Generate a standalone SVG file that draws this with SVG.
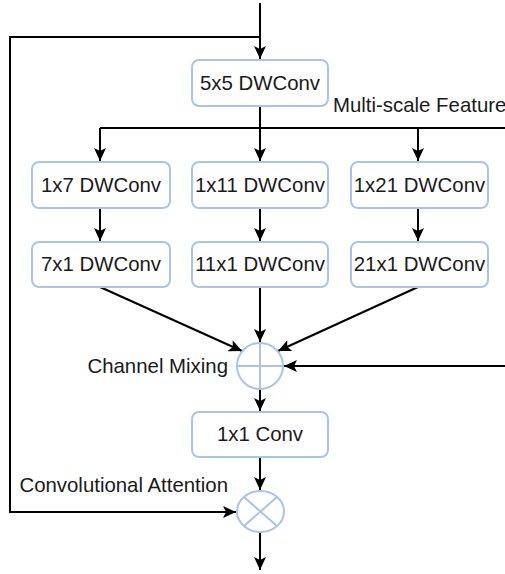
<svg xmlns="http://www.w3.org/2000/svg" width="505" height="574" viewBox="0 0 505 574">
<style>
.box{fill:#ffffff;stroke:#a9c4eb;stroke-width:2}
.op{fill:#ffffff;stroke:#a9c4eb;stroke-width:2}
.t{font-family:"Liberation Sans",Arial,sans-serif;font-size:20.4px;fill:#1a1a1a}
.c{text-anchor:middle}
.ln{fill:none;stroke:#000000;stroke-width:2}
</style>
<defs>
<marker id="ah" markerWidth="14" markerHeight="14" viewBox="0 0 14 14" refX="13" refY="7" orient="auto" markerUnits="userSpaceOnUse">
<path d="M0,1 L13,7 L0,13 L3,7 Z" fill="#000"/>
</marker>
</defs>
<g id="connectors">
<path class="ln" d="M260,3 V59" marker-end="url(#ah)"/>
<path class="ln" d="M260,37 H10 V512 H236" marker-end="url(#ah)"/>
<path class="ln" d="M260,106 V128"/>
<path class="ln" d="M100,128 H505"/>
<path class="ln" d="M100,128 V161" marker-end="url(#ah)"/>
<path class="ln" d="M260,128 V161" marker-end="url(#ah)"/>
<path class="ln" d="M418,128 V161" marker-end="url(#ah)"/>
<path class="ln" d="M100,208 V241" marker-end="url(#ah)"/>
<path class="ln" d="M260,208 V241" marker-end="url(#ah)"/>
<path class="ln" d="M418,208 V241" marker-end="url(#ah)"/>
<path class="ln" d="M100,287 L242,351" marker-end="url(#ah)"/>
<path class="ln" d="M260,287 V342" marker-end="url(#ah)"/>
<path class="ln" d="M418,287 L278,351" marker-end="url(#ah)"/>
<path class="ln" d="M505,366 H284" marker-end="url(#ah)"/>
<path class="ln" d="M260,389 V411" marker-end="url(#ah)"/>
<path class="ln" d="M260,457 V490" marker-end="url(#ah)"/>
<path class="ln" d="M260,532 V570" marker-end="url(#ah)"/>
</g>
<g id="n5x5"><rect class="box" x="192" y="60" width="136" height="46" rx="7"/><text class="t c" x="260" y="90">5x5 DWConv</text></g>
<g id="n1x7"><rect class="box" x="32" y="162" width="138" height="46" rx="7"/><text class="t c" x="101" y="191.5">1x7 DWConv</text></g>
<g id="n1x11"><rect class="box" x="192" y="162" width="136" height="46" rx="7"/><text class="t c" x="260" y="191.5">1x11 DWConv</text></g>
<g id="n1x21"><rect class="box" x="351" y="162" width="137" height="46" rx="7"/><text class="t c" x="419.5" y="191.5">1x21 DWConv</text></g>
<g id="n7x1"><rect class="box" x="32" y="242" width="138" height="45" rx="7"/><text class="t c" x="101" y="271">7x1 DWConv</text></g>
<g id="n11x1"><rect class="box" x="192" y="242" width="136" height="45" rx="7"/><text class="t c" x="260" y="271">11x1 DWConv</text></g>
<g id="n21x1"><rect class="box" x="351" y="242" width="137" height="45" rx="7"/><text class="t c" x="419.5" y="271">21x1 DWConv</text></g>
<g id="nadd"><circle class="op" cx="260" cy="366" r="23"/><path class="op" d="M237,366 H283 M260,343 V389"/></g>
<g id="n1x1"><rect class="box" x="192" y="412" width="136" height="45" rx="7"/><text class="t c" x="260" y="441">1x1 Conv</text></g>
<g id="nmul"><ellipse class="op" cx="260.5" cy="511.5" rx="23.5" ry="20.5"/><path class="op" d="M244,497 L277,526 M277,497 L244,526"/></g>
<g id="labels">
<text class="t" x="333" y="112">Multi-scale Feature</text>
<text class="t" x="228" y="373" text-anchor="end">Channel Mixing</text>
<text class="t" x="228" y="492" text-anchor="end">Convolutional Attention</text>
</g>
</svg>
